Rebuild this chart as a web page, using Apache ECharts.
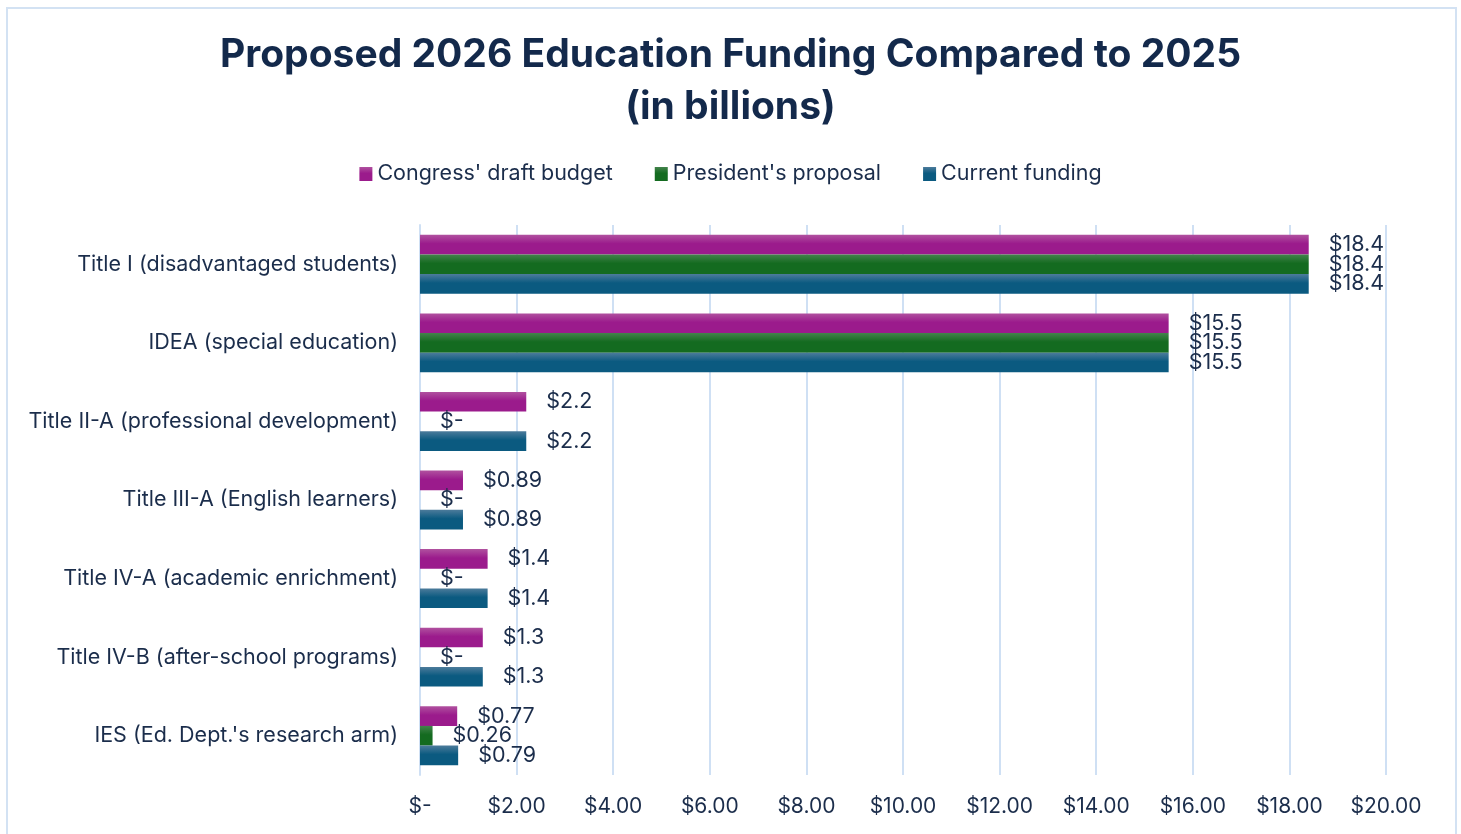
<!DOCTYPE html>
<html>
<head>
<meta charset="utf-8">
<script src="https://cdn.jsdelivr.net/npm/echarts@6/dist/echarts.min.js"></script>
<style>
html,body{margin:0;padding:0;background:#fff;overflow:hidden;}
#frame{position:absolute;left:6px;top:7px;width:1451px;height:860px;border:2px solid #d3e2f3;box-sizing:border-box;}
#chart{position:absolute;left:0;top:0;width:1461px;height:834px;}
</style>
</head>
<body>
<div id="frame"></div>
<div id="chart"></div>
<script>
const categories = [
  "Title I (disadvantaged students)",
  "IDEA (special education)",
  "Title II-A (professional development)",
  "Title III-A (English learners)",
  "Title IV-A (academic enrichment)",
  "Title IV-B (after-school programs)",
  "IES (Ed. Dept.'s research arm)"
];
const seriesNames = ["Congress' draft budget", "President's proposal", "Current funding"];
const congress = [18.4, 15.5, 2.2, 0.89, 1.4, 1.3, 0.77];
const president = [18.4, 15.5, 0, 0, 0, 0, 0.26];
const current = [18.4, 15.5, 2.2, 0.89, 1.4, 1.3, 0.79];
const xTicks = [0, 2, 4, 6, 8, 10, 12, 14, 16, 18, 20];

const textColor = '#1b2d4b';
const FONT = 'Inter, "Open Sans", sans-serif';
function grad(top, bottom) {
  return new echarts.graphic.LinearGradient(0, 0, 0, 1, [
    {offset: 0, color: top}, {offset: 0.45, color: bottom}, {offset: 1, color: bottom}
  ]);
}
const colors = [grad('#b0519f', '#9b1b8c'), grad('#43834c', '#146b20'), grad('#4c7b9b', '#0b5a80')];
const dataSets = [congress, president, current];

const chart = echarts.init(document.getElementById('chart'));
chart.setOption({
  animation: false,
  title: {
    text: 'Proposed 2026 Education Funding Compared to 2025\n(in billions)',
    left: 'center', top: 24,
    textStyle: {fontFamily: FONT, fontWeight: 'bold', fontSize: 39, color: '#13294b', lineHeight: 52}
  },
  legend: {
    top: 158, left: 'center',
    icon: 'rect', itemWidth: 13, itemHeight: 14, itemGap: 42,
    textStyle: {fontFamily: FONT, fontSize: 21.5, color: textColor},
    data: seriesNames
  },
  grid: {left: 420, right: 75, top: 225, bottom: 59, containLabel: false},
  xAxis: {
    type: 'value', min: xTicks[0], max: xTicks[xTicks.length - 1], interval: 2,
    axisLine: {show: false}, axisTick: {show: false},
    splitLine: {show: true, lineStyle: {color: '#cfe0f4', width: 2}},
    axisLabel: {
      margin: 21, fontFamily: FONT, fontSize: 21, color: textColor,
      formatter: v => v === 0 ? '$-' : '$' + v.toFixed(2)
    }
  },
  yAxis: {
    type: 'category', data: categories, inverse: true,
    axisLine: {show: true, lineStyle: {color: '#cfe0f4', width: 2}},
    axisTick: {show: false},
    axisLabel: {margin: 22, fontFamily: FONT, fontSize: 21.5, color: textColor}
  },
  series: seriesNames.map((name, i) => ({
    name, type: 'bar', data: dataSets[i],
    barGap: '0%', barCategoryGap: '25%',
    itemStyle: {color: colors[i]},
    label: {
      show: true, position: 'right', distance: 20,
      fontFamily: FONT, fontSize: 21.5, color: textColor,
      formatter: p => p.value === 0 ? '$-' : '$' + p.value
    }
  }))
});
</script>
</body>
</html>
